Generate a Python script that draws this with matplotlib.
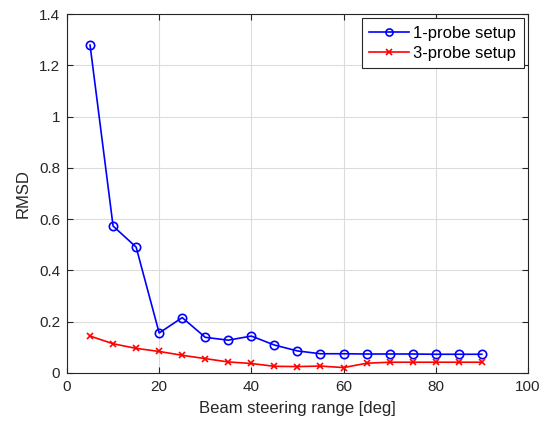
import matplotlib
matplotlib.use("Agg")
import matplotlib.pyplot as plt

plt.rcParams['font.family'] = ['Liberation Sans', 'DejaVu Sans']

x = [5, 10, 15, 20, 25, 30, 35, 40, 45, 50, 55, 60, 65, 70, 75, 80, 85, 90]
probe1 = [1.279, 0.573, 0.491, 0.156, 0.216, 0.139, 0.128, 0.144, 0.109, 0.086,
          0.075, 0.075, 0.074, 0.074, 0.074, 0.073, 0.073, 0.073]
probe3 = [0.144, 0.114, 0.096, 0.084, 0.069, 0.056, 0.043, 0.037, 0.026, 0.025,
          0.027, 0.021, 0.038, 0.042, 0.042, 0.042, 0.042, 0.042]
xticks = [0, 20, 40, 60, 80, 100]
yticks = [0, 0.2, 0.4, 0.6, 0.8, 1, 1.2, 1.4]
ytick_labels = ['0', '0.2', '0.4', '0.6', '0.8', '1', '1.2', '1.4']

fig = plt.figure(figsize=(5.51, 4.25), dpi=100)
ax = fig.add_axes([0.1216, 0.1224, 0.8364, 0.8446])
ax.plot(x, probe1, color='#0000ff', marker='o', markersize=6, markerfacecolor='none',
        markeredgewidth=1.2, linewidth=1.2, label='1-probe setup')
ax.plot(x, probe3, color='#ff0000', marker='x', markersize=4.5, markeredgewidth=1.2,
        linewidth=1.2, label='3-probe setup')
ax.set_xlim(0, 100)
ax.set_ylim(0, 1.4)
ax.set_xticks(xticks)
ax.set_yticks(yticks)
ax.set_yticklabels(ytick_labels)
ax.grid(True, color='#dcdcdc', linewidth=0.8)
ax.set_axisbelow(True)
ax.tick_params(direction='in', length=4, labelsize=11, colors='#262626', top=True, right=True, pad=5)
for s in ax.spines.values():
    s.set_color('#262626')
    s.set_linewidth(0.8)
ax.set_xlabel('Beam steering range [deg]', fontsize=12, color='#262626', labelpad=5)
ax.set_ylabel('RMSD', fontsize=12, color='#262626', labelpad=6)
leg = ax.legend(loc='upper right', prop={'size': 12}, fancybox=False, framealpha=1,
                edgecolor='#262626', borderaxespad=0.25, handlelength=2.4,
                borderpad=0.45, labelspacing=0.3, handletextpad=0.25, markerscale=0.85)
leg.get_frame().set_linewidth(0.8)
fig.savefig('out.png', dpi=100)
